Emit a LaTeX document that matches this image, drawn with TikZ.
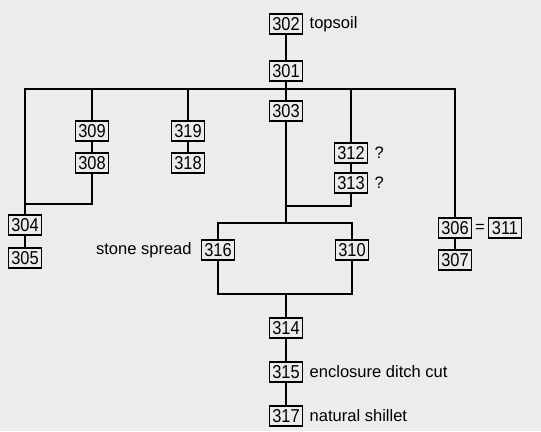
\documentclass[tikz,border=0pt]{standalone}
\usepackage{fontspec}
\setmainfont{Liberation Sans}
\newfontfamily\ctxfont[FakeStretch=0.88]{Liberation Sans}
\usetikzlibrary{positioning}
\usetikzlibrary{calc}

\definecolor{paper}{RGB}{236,236,236}

\tikzset{ctx/.style={draw, line width=0.9pt, minimum width=24.75pt, minimum height=15pt, inner sep=0pt, font=\ctxfont\fontsize{14}{15}\selectfont},
         lbl/.style={inner sep=0pt, font=\fontsize{12.4}{14}\selectfont}}

\begin{document}
\begin{tikzpicture}[x=0.75pt, y=-0.75pt, line width=0.9pt]

 \fill[paper] (0,0) rectangle (541,431);
 \useasboundingbox (0,0) rectangle (541,431);

 %contexts
 \foreach \name/\x/\y in { 302/286/24, 301/286/71, 303/286/111, 309/92/131, 308/92/163, 319/188/131, 318/188/163,
                           312/351/153, 313/351/183, 304/25/225, 305/25/258, 306/455/228, 311/505/228, 307/455/260,
                           316/218/250, 310/352/250, 314/286/328, 315/286/372, 317/286/416 } {
         \node[ctx] (C\name) at (\x,\y) {\name};
 }

 %junctions
 \coordinate (jtop) at (286,89);
 \coordinate (jleft) at (25,204);
 \coordinate (jright) at (286,206);
 \coordinate (rtop) at (286,223);
 \coordinate (rbot) at (286,294);

 %main sequence
 \draw (C302) -- (C301);
 \draw (C301) -- (C303);
 \draw (C304) |- (jtop) -| (C306);
 \draw (C309) -- (C309 |- jtop);
 \draw (C319) -- (C319 |- jtop);
 \draw (C312) -- (C312 |- jtop);
 \draw (C309) -- (C308);
 \draw (C319) -- (C318);
 \draw (C312) -- (C313);
 \draw (C304) -- (C305);
 \draw (C306) -- (C307);
 \draw (C308) |- (jleft);
 \draw (C313) |- (jright);
 \draw (C303) -- (rtop);
 \draw (C316) |- (rtop) -| (C310);
 \draw (C316) |- (rbot) -| (C310);
 \draw (rbot) -- (C314);
 \draw (C314) -- (C315);
 \draw (C315) -- (C317);

 %labels
 \node[lbl, anchor=west, right=4.5pt of C302] (Ltop) {topsoil};
 \node[lbl, anchor=west, right=4.5pt of C312] (Lq1) {?};
 \node[lbl, anchor=west, right=4.5pt of C313] (Lq2) {?};
 \node[lbl, anchor=east, left=6.5pt of C316] (Lstone) {stone spread};
 \node[lbl] (Leq) at ($(C306.east)!0.5!(C311.west)$) {=};
 \node[lbl, anchor=west, right=4.5pt of C315] (Lditch) {enclosure ditch cut};
 \node[lbl, anchor=west, right=4.5pt of C317] (Lnat) {natural shillet};

\end{tikzpicture}
\end{document}
